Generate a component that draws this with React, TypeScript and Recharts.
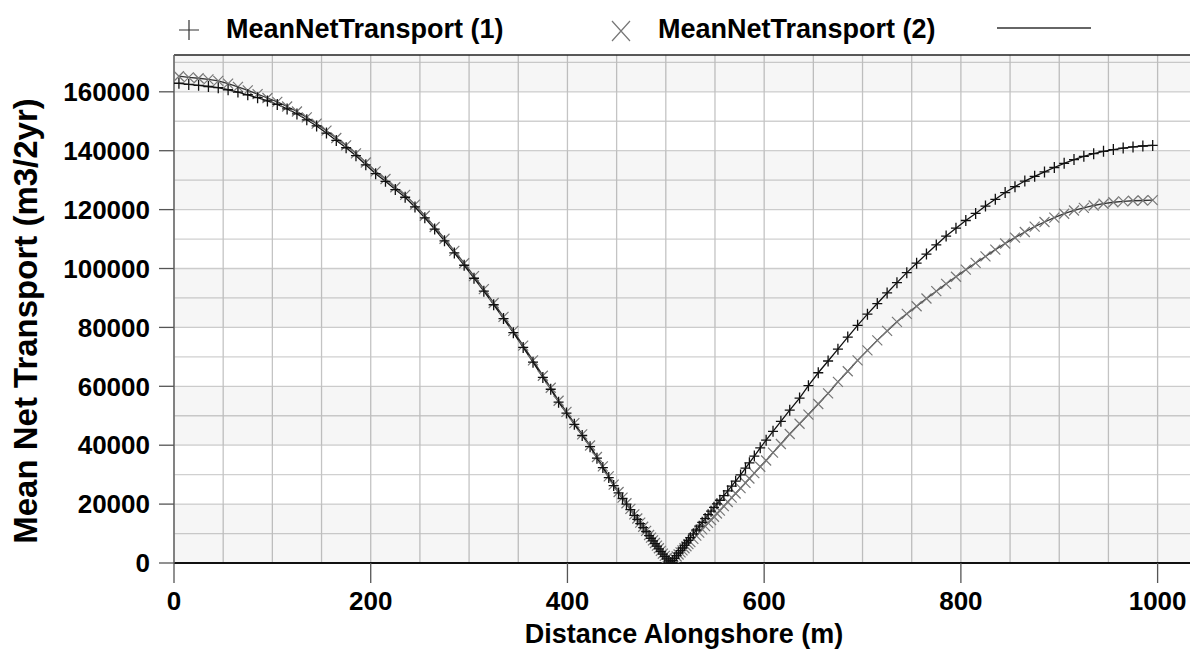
import { LineChart, Line, XAxis, YAxis, CartesianGrid, ReferenceLine, ReferenceArea, Label } from "recharts";

// distance alongshore (m), shared by both runs
const distance = [
  5, 15, 25, 35, 45, 55, 65, 75, 85, 95, 105, 115, 125, 135, 145, 155, 165, 175, 185, 195,
  205, 215, 225, 235, 245, 255, 265, 275, 285, 295, 305, 315, 325, 335, 345, 355, 365, 375,
  383, 391, 399, 407, 415, 423, 430, 436, 442, 447, 452, 456, 460, 464, 468, 471, 474, 477,
  480, 483, 485, 487, 489, 491, 493, 495, 497, 499, 501, 503, 505,
  507, 509, 511, 513, 515, 517, 519, 521, 523, 525, 528, 531, 534, 537, 540, 543, 546, 549,
  552, 555, 559, 563, 567, 571, 576, 581, 585, 590, 596, 602, 609, 617, 626, 636, 645,
  655, 665, 675, 685, 695, 705, 715, 725, 735, 745, 755, 765, 775, 785, 795, 805, 815, 825,
  835, 845, 855, 865, 875, 885, 895, 905, 915, 925, 935, 945, 955, 965, 975, 985, 995,
];

// MeanNetTransport (1), m3/2yr
const transport1 = [
  162900, 162500, 162200, 161800, 161400, 160700, 159900, 159000, 158000, 156900, 155700,
  154200, 152500, 150500, 148400, 146000, 143500, 141000, 138300, 135200, 132200, 129600,
  126800, 124200, 120900, 117200, 113400, 109400, 105300, 101100, 96700, 92300, 87700,
  83000, 78200, 73200, 68200, 63000,
  59000, 54600, 50900, 47100, 43300, 39500, 35600, 32400, 29000, 26300, 23800, 21900,
  20000, 18100, 16200, 14800, 13400, 12000, 10700, 9300, 8400, 7500, 6600, 5700, 4800,
  3900, 3000, 2200, 1400, 700, 200,
  800, 1600, 2500, 3400, 4200, 5100, 6000, 6800, 7700, 8600, 9900, 11200, 12500, 13800,
  15100, 16400, 17600, 18900, 20100, 21300, 22900, 24500, 26100, 27800, 29900, 32200,
  34000, 36300, 39100, 41700, 44700, 48100, 51900, 56000, 60200,
  64600, 68600, 72600, 76700, 80700, 84500, 88100, 91700, 95200, 98600, 101800, 104900,
  108000, 111000, 113700, 116300, 118700, 121200, 123500, 125800, 127800, 129700, 131300,
  132800, 134300, 135700, 137000, 138100, 139000, 139800, 140400, 140900, 141300, 141600,
  141800,
];

// MeanNetTransport (2), m3/2yr
const transport2 = [
  165300, 164900, 164600, 164200, 163700, 162800, 161700, 160500, 159200, 157900, 156600,
  155000, 153300, 151300, 149200, 146800, 144300, 141800, 139100, 136000, 133000, 130400,
  127600, 125000, 121700, 117900, 114100, 110100, 106000, 101800, 97400, 93000, 88300,
  83600, 78800, 73800, 68800, 63600,
  59500, 55100, 51300, 47500, 43700, 39900, 36000, 32800, 29400, 26600, 24100, 22200,
  20300, 18400, 16500, 15100, 13700, 12300, 10900, 9500, 8600, 7700, 6800, 5900, 5000,
  4100, 3200, 2400, 1600, 900, 300,
  800, 1500, 2200, 2900, 3600, 4300, 5000, 5700, 6400, 7100, 8200, 9300, 10300, 11400,
  12500, 13600, 14600, 15700, 16800, 17800, 19300, 20700, 22200, 23600, 25400, 27200,
  28700, 30500, 32700, 34800, 37500, 40400, 43800, 47300, 50400,
  54000, 57600, 61500, 65100, 68800, 72200, 75600, 78800, 81900, 84600, 87200, 89800,
  92300, 94800, 97200, 99600, 101900, 104100, 106400, 108500, 110500, 112400, 114200,
  115800, 117300, 118600, 119700, 120600, 121400, 122000, 122500, 122800, 123000, 123100,
  123200,
];

const xTicks = [0, 200, 400, 600, 800, 1000];
const yTicks = [0, 20000, 40000, 60000, 80000, 100000, 120000, 140000, 160000];

const X_MAX = 1037;
const Y_MAX = 172500;
const xGrid = Array.from({ length: 21 }, (_, i) => i * 50);
const yGrid = Array.from({ length: 35 }, (_, i) => i * 5000);
const shadedBands = [
  [0, 20000],
  [40000, 60000],
  [80000, 100000],
  [120000, 140000],
  [160000, Y_MAX],
];

const rows = distance.map((x, i) => ({ x, t1: transport1[i], t2: transport2[i] }));

const FONT = "'Liberation Sans', Arial, sans-serif";

const PlusDot = (props: any) => {
  const { cx, cy, index } = props;
  if (cx == null || cy == null) return null;
  return (
    <path
      key={`p-${index}`}
      d={`M${cx - 5},${cy}H${cx + 5}M${cx},${cy - 5.5}V${cy + 5.5}`}
      stroke="#111"
      strokeWidth={1.3}
      fill="none"
    />
  );
};

const CrossDot = (props: any) => {
  const { cx, cy, index } = props;
  if (cx == null || cy == null) return null;
  return (
    <path
      key={`c-${index}`}
      d={`M${cx - 5},${cy - 5}L${cx + 5},${cy + 5}M${cx - 5},${cy + 5}L${cx + 5},${cy - 5}`}
      stroke="#777"
      strokeWidth={1.2}
      fill="none"
    />
  );
};

const legendText = { fontFamily: FONT, fontWeight: 700, fontSize: 27, fill: "#000" };

const ChartLegend = () => (
  <svg width={1190} height={52} style={{ position: "absolute", left: 0, top: 0 }}>
    <path d="M179,30H199M189,20V40" stroke="#333" strokeWidth={1.2} />
    <text x={226} y={38} {...legendText}>MeanNetTransport (1)</text>
    <path d="M612,21L630,41M612,41L630,21" stroke="#777" strokeWidth={1.2} />
    <text x={658} y={38} {...legendText}>MeanNetTransport (2)</text>
    <path d="M997,28H1091" stroke="#666" strokeWidth={2} />
  </svg>
);

const YTitle = () => (
  <text
    x={37}
    y={321}
    transform="rotate(-90, 37, 321)"
    textAnchor="middle"
    {...legendText}
    fontSize={33}
  >
    Mean Net Transport (m3/2yr)
  </text>
);

const tickStyle = { fontFamily: FONT, fontWeight: 700, fontSize: 26, fill: "#000" };

export default function App() {
  return (
    <div
      style={{
        position: "absolute",
        left: 0,
        top: 0,
        width: 1190,
        height: 651,
        overflow: "hidden",
        background: "#fff",
      }}
    >
      <LineChart width={1194} height={651} data={rows} margin={{ top: 55, right: 0, bottom: 0, left: 0 }}>
        {shadedBands.map(([a, b]) => (
          <ReferenceArea key={a} y1={a} y2={b} fill="#000" fillOpacity={0.035} stroke="none" />
        ))}
        <CartesianGrid vertical={false} horizontalValues={yGrid} stroke="#d0d0d0" strokeWidth={1.3} />
        <CartesianGrid horizontal={false} verticalValues={xGrid} stroke="#c4c4c4" strokeWidth={1.3} />
        <XAxis
          type="number"
          dataKey="x"
          domain={[0, X_MAX]}
          ticks={xTicks}
          allowDataOverflow
          height={88}
          tickSize={20}
          tickMargin={9}
          tick={tickStyle}
          tickLine={{ stroke: "#555", strokeWidth: 1.3 }}
          axisLine={{ stroke: "#111", strokeWidth: 2 }}
        >
          <Label value="Distance Alongshore (m)" position="insideBottom" offset={8} style={legendText} />
        </XAxis>
        <YAxis
          type="number"
          domain={[0, Y_MAX]}
          ticks={yTicks}
          allowDataOverflow
          width={174}
          tickSize={15}
          tickMargin={9}
          tick={tickStyle}
          tickLine={{ stroke: "#555", strokeWidth: 1.3 }}
          axisLine={{ stroke: "#666", strokeWidth: 1.5 }}
          label={<YTitle />}
        />
        <ReferenceLine y={Y_MAX} stroke="#222" strokeWidth={1.5} />
        <Line
          type="linear"
          dataKey="t2"
          stroke="#333"
          strokeWidth={1.3}
          dot={CrossDot}
          activeDot={false}
          isAnimationActive={false}
        />
        <Line
          type="linear"
          dataKey="t1"
          stroke="#111"
          strokeWidth={1.3}
          dot={PlusDot}
          activeDot={false}
          isAnimationActive={false}
        />
      </LineChart>
      <ChartLegend />
    </div>
  );
}
